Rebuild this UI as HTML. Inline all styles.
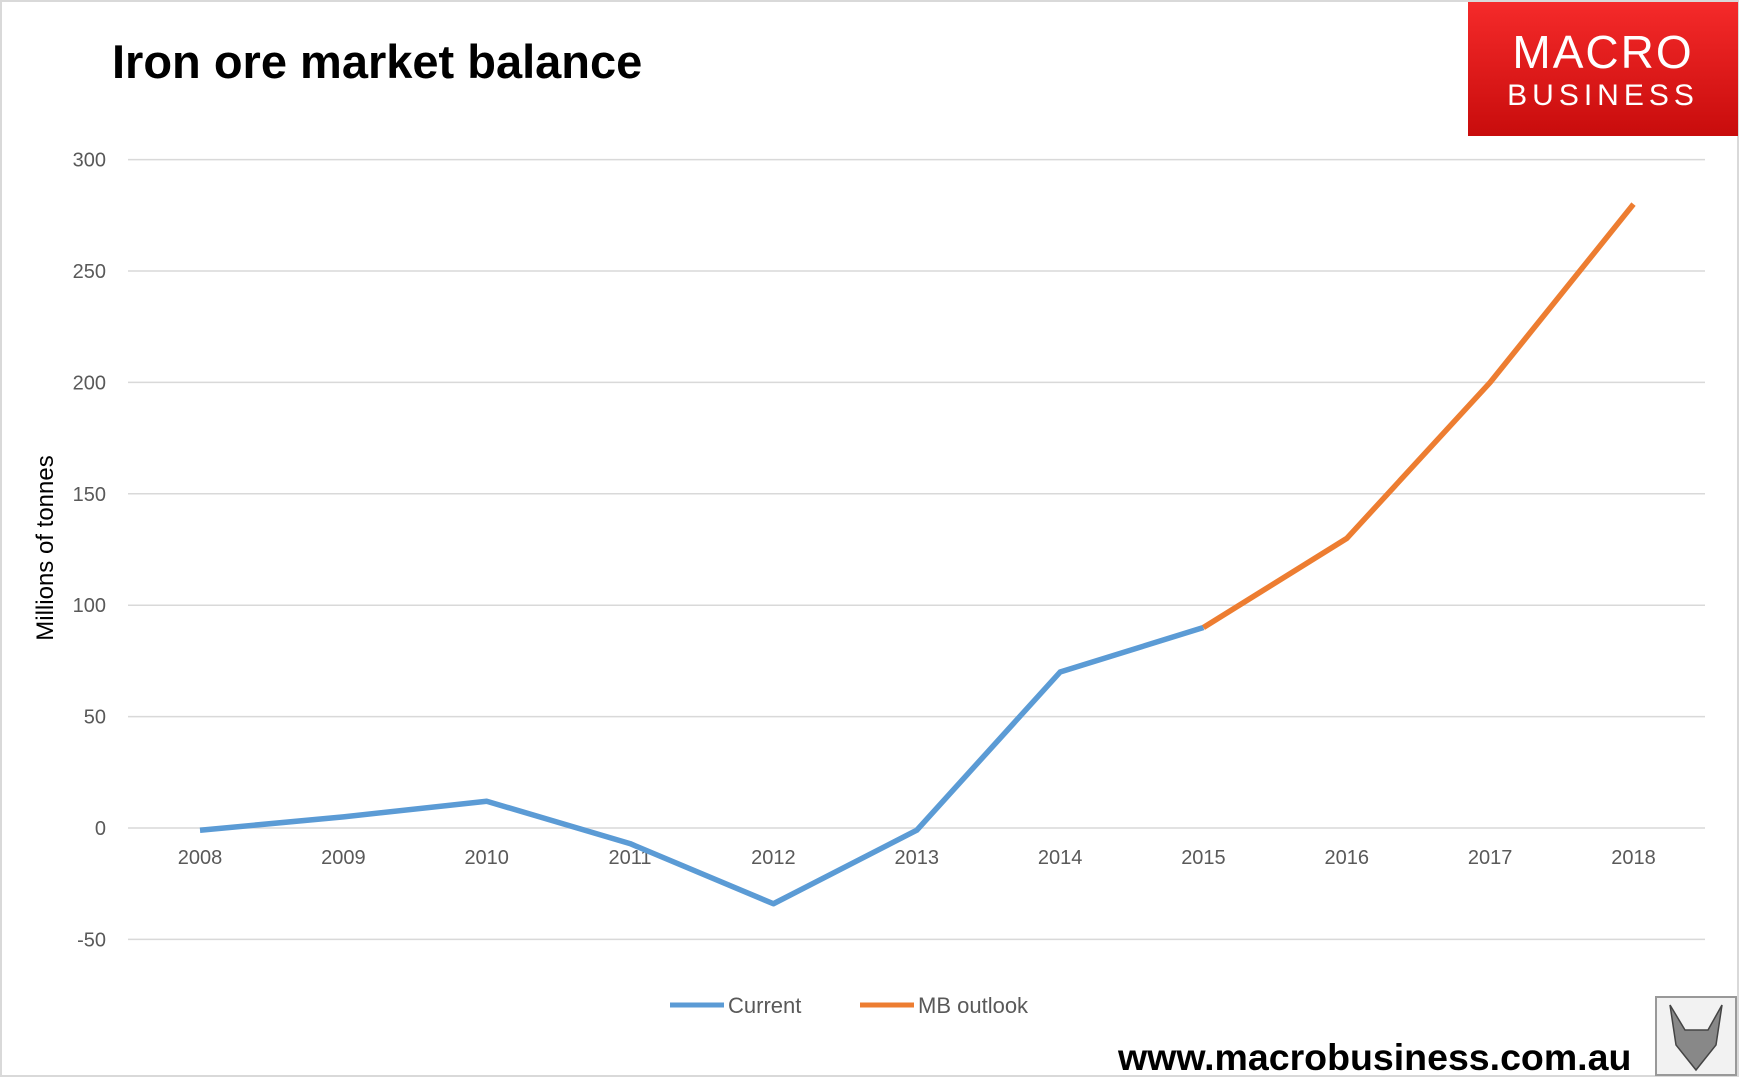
<!DOCTYPE html>
<html><head><meta charset="utf-8">
<style>
html,body{margin:0;padding:0;background:#fff;}
body{width:1740px;height:1078px;overflow:hidden;position:relative;font-family:"Liberation Sans",sans-serif;}
</style></head>
<body>
<svg id="chart" width="1740" height="1078" viewBox="0 0 1740 1078" xmlns="http://www.w3.org/2000/svg">
<rect x="1" y="1" width="1737" height="1075" fill="#fff" stroke="#d9d9d9" stroke-width="2"/>
<text x="112" y="78" font-size="47" font-weight="bold" fill="#000">Iron ore market balance</text>
<g>
<defs><linearGradient id="lg" x1="0" y1="0" x2="0" y2="1"><stop offset="0" stop-color="#f52a2a"/><stop offset="1" stop-color="#c80c0c"/></linearGradient></defs>
<rect x="1468" y="2" width="270" height="134" fill="url(#lg)"/>
<text x="1603" y="68" text-anchor="middle" font-size="46" fill="#fff" letter-spacing="2">MACRO</text>
<text x="1603" y="105" text-anchor="middle" font-size="30" fill="#fff" letter-spacing="5">BUSINESS</text>
</g>
<g id="grid"></g><g id="yticks"></g><g id="xticks"></g><g id="lines"></g>
<text transform="translate(53,548) rotate(-90)" text-anchor="middle" font-size="24" fill="#000">Millions of tonnes</text>
<g>
<line x1="670" y1="1005" x2="724" y2="1005" stroke="#5B9BD5" stroke-width="5"/>
<text x="728" y="1013" font-size="22" fill="#595959">Current</text>
<line x1="860" y1="1005" x2="914" y2="1005" stroke="#ED7D31" stroke-width="5"/>
<text x="918" y="1013" font-size="22" fill="#595959">MB outlook</text>
</g>
<text x="1118" y="1070" font-size="37.5" font-weight="bold" fill="#000">www.macrobusiness.com.au</text>
<g>
<rect x="1656" y="997" width="80" height="78" fill="#f2f2f2" stroke="#999" stroke-width="2"/>
<path d="M1670 1005 L1685 1030 L1708 1030 L1722 1005 L1716 1045 L1696 1070 L1676 1045 Z" fill="#888" stroke="#444" stroke-width="1.5"/>
</g>
</svg>
<script>
const years = ["2008","2009","2010","2011","2012","2013","2014","2015","2016","2017","2018"];
const currentValues = [-1, 5, 12, -7, -34, -1, 70, 90, null, null, null];
const outlookValues = [null, null, null, null, null, null, null, 90, 130, 200, 280];
const yTicks = [300, 250, 200, 150, 100, 50, 0, -50];
const NS = "http://www.w3.org/2000/svg";
const xs = i => 200 + i * 143.35;
const ys = v => 828 - v * (111.4 / 50);
const grid = document.getElementById('grid'), yt = document.getElementById('yticks'), xt = document.getElementById('xticks'), lines = document.getElementById('lines');
yTicks.forEach(v => {
  const l = document.createElementNS(NS, 'line');
  
  
  l.setAttribute('x1', 128); l.setAttribute('x2', 1705);
  l.setAttribute('y1', ys(v)); l.setAttribute('y2', ys(v));
  l.setAttribute('stroke', '#d9d9d9'); l.setAttribute('stroke-width', 1.5);
  grid.appendChild(l);
  const t = document.createElementNS(NS, 'text');
  
  
  t.setAttribute('x', 106); t.setAttribute('y', ys(v) + 7);
  t.setAttribute('text-anchor', 'end'); t.setAttribute('font-size', 20); t.setAttribute('fill', '#595959');
  t.textContent = v; yt.appendChild(t);
});
years.forEach((y, i) => {
  const t = document.createElementNS(NS, 'text');
  
  
  t.setAttribute('x', xs(i)); t.setAttribute('y', ys(0) + 36);
  t.setAttribute('text-anchor', 'middle'); t.setAttribute('font-size', 20); t.setAttribute('fill', '#595959');
  t.textContent = y; xt.appendChild(t);
});
function drawLine(vals, color, name) {
  const pts = [];
  vals.forEach((v, i) => { if (v !== null) pts.push(xs(i) + ',' + ys(v)); });
  const p = document.createElementNS(NS, 'polyline');
  
  
  p.setAttribute('points', pts.join(' '));
  p.setAttribute('fill', 'none'); p.setAttribute('stroke', color);
  p.setAttribute('stroke-width', 5.5); p.setAttribute('stroke-linejoin', 'round');
  lines.appendChild(p);
}
drawLine(currentValues, '#5B9BD5', 'current-line');
drawLine(outlookValues, '#ED7D31', 'mb-outlook-line');
</script>
</body></html>
